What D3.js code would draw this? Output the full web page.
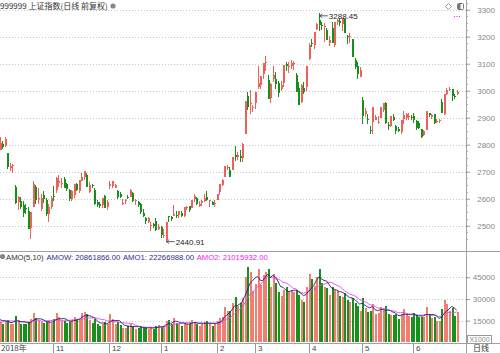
<!DOCTYPE html>
<html>
<head>
<meta charset="utf-8">
<script src="https://cdn.jsdelivr.net/npm/d3@7"></script>
<style>
  body { margin: 0; background: #fff; }
  svg { display: block; font-family: "Liberation Sans", Arial, "Noto Sans CJK SC", sans-serif; }
</style>
</head>
<body>
<div id="main-canvas"></div>
<script>
// Shanghai composite daily candles + turnover (AMO), Sep 2018 - Jun 2019

// ------------ DATA ------------ //

const dates = [
  // Sep 2018 (first ones are only there to feed the moving averages)
  "2018-09-10","2018-09-11","2018-09-12","2018-09-13","2018-09-14","2018-09-17","2018-09-18","2018-09-19","2018-09-20","2018-09-21","2018-09-25","2018-09-26","2018-09-27","2018-09-28",
  // Oct
  "2018-10-08","2018-10-09","2018-10-10","2018-10-11","2018-10-12","2018-10-15","2018-10-16","2018-10-17","2018-10-18","2018-10-19","2018-10-22","2018-10-23","2018-10-24","2018-10-25","2018-10-26","2018-10-29","2018-10-30","2018-10-31",
  // Nov
  "2018-11-01","2018-11-02","2018-11-05","2018-11-06","2018-11-07","2018-11-08","2018-11-09","2018-11-12","2018-11-13","2018-11-14","2018-11-15","2018-11-16","2018-11-19","2018-11-20","2018-11-21","2018-11-22","2018-11-23","2018-11-26","2018-11-27","2018-11-28","2018-11-29","2018-11-30",
  // Dec
  "2018-12-03","2018-12-04","2018-12-05","2018-12-06","2018-12-07","2018-12-10","2018-12-11","2018-12-12","2018-12-13","2018-12-14","2018-12-17","2018-12-18","2018-12-19","2018-12-20","2018-12-21","2018-12-24","2018-12-25","2018-12-26","2018-12-27","2018-12-28",
  // Jan 2019
  "2019-01-02","2019-01-03","2019-01-04","2019-01-07","2019-01-08","2019-01-09","2019-01-10","2019-01-11","2019-01-14","2019-01-15","2019-01-16","2019-01-17","2019-01-18","2019-01-21","2019-01-22","2019-01-23","2019-01-24","2019-01-25","2019-01-28","2019-01-29","2019-01-30","2019-01-31",
  // Feb
  "2019-02-01","2019-02-11","2019-02-12","2019-02-13","2019-02-14","2019-02-15","2019-02-18","2019-02-19","2019-02-20","2019-02-21","2019-02-22","2019-02-25","2019-02-26","2019-02-27","2019-02-28",
  // Mar
  "2019-03-01","2019-03-04","2019-03-05","2019-03-06","2019-03-07","2019-03-08","2019-03-11","2019-03-12","2019-03-13","2019-03-14","2019-03-15","2019-03-18","2019-03-19","2019-03-20","2019-03-21","2019-03-22","2019-03-25","2019-03-26","2019-03-27","2019-03-28","2019-03-29",
  // Apr
  "2019-04-01","2019-04-02","2019-04-03","2019-04-04","2019-04-08","2019-04-09","2019-04-10","2019-04-11","2019-04-12","2019-04-15","2019-04-16","2019-04-17","2019-04-18","2019-04-19","2019-04-22","2019-04-23","2019-04-24","2019-04-25","2019-04-26","2019-04-29","2019-04-30",
  // May
  "2019-05-06","2019-05-07","2019-05-08","2019-05-09","2019-05-10","2019-05-13","2019-05-14","2019-05-15","2019-05-16","2019-05-17","2019-05-20","2019-05-21","2019-05-22","2019-05-23","2019-05-24","2019-05-27","2019-05-28","2019-05-29","2019-05-30","2019-05-31",
  // Jun
  "2019-06-03","2019-06-04","2019-06-05","2019-06-06","2019-06-10","2019-06-11","2019-06-12","2019-06-13","2019-06-14","2019-06-17","2019-06-18","2019-06-19","2019-06-20","2019-06-21","2019-06-24","2019-06-25","2019-06-26","2019-06-27"
];

const opens = [
  2690,2668,2660,2680,2688,2680,2644,2696,2730,2731,2785,2782,2803,2795,
  2768,2713,2723,2643,2588,2592,2577,2567,2556,2492,2571,2644,2598,2561,2615,2595,2542,2569,
  2609,2634,2658,2656,2672,2656,2631,2598,2612,2653,2630,2666,2680,2689,2624,2650,2634,2587,2582,2578,2610,2570,
  2647,2647,2641,2627,2616,2583,2590,2608,2607,2620,2593,2588,2581,2546,2530,2514,2500,2505,2518,2487,
  2497,2461,2446,2535,2534,2535,2541,2540,2548,2536,2568,2572,2567,2598,2603,2573,2585,2593,2608,2590,2588,2580,
  2597,2623,2650,2680,2712,2708,2706,2762,2755,2760,2749,2838,2981,2949,2940,
  2954,3015,3020,3061,3104,3038,2974,3043,3043,3030,3008,3028,3100,3091,3092,3102,3057,3009,2958,3009,3012,
  3118,3177,3171,3227,3262,3245,3238,3225,3175,3232,3170,3255,3260,3248,3265,3203,3201,3192,3112,3093,3052,
  2966,2914,2895,2855,2883,2891,2880,2899,2927,2953,2874,2868,2904,2870,2857,2846,2894,2899,2901,2903,
  2905,2887,2882,2857,2836,2856,2916,2903,2914,2886,2886,2960,2913,2987,3006,3006,2981,2986
];

const highs = [
  2694,2685,2675,2690,2703,2680,2700,2743,2740,2798,2790,2827,2813,2827,
  2769,2732,2730,2651,2610,2605,2591,2581,2569,2552,2667,2649,2640,2617,2628,2604,2580,2610,
  2646,2679,2688,2675,2680,2658,2637,2632,2656,2658,2669,2695,2703,2694,2661,2656,2640,2597,2589,2601,2615,2595,
  2667,2667,2655,2631,2623,2599,2599,2615,2635,2624,2599,2590,2584,2561,2532,2531,2512,2510,2527,2505,
  2500,2488,2515,2536,2535,2575,2556,2554,2553,2571,2574,2573,2597,2618,2606,2590,2597,2618,2630,2596,2590,2594,
  2619,2653,2674,2722,2726,2716,2754,2795,2773,2779,2805,2961,2997,3002,2948,
  2997,3090,3055,3103,3129,3060,3028,3091,3068,3037,3035,3096,3105,3106,3112,3111,3066,3032,3023,3031,3093,
  3177,3191,3218,3252,3288.45,3253,3249,3231,3204,3255,3253,3265,3269,3270,3265,3207,3213,3192,3120,3107,3088,
  2978,2935,2914,2870,2941,2910,2907,2941,2955,2957,2884,2906,2913,2872,2867,2892,2926,2919,2917,2911,
  2918,2890,2886,2858,2853,2926,2917,2913,2914,2895,2897,2968,2988,3010,3014,3006,2987,3004
];

const lows = [
  2666,2653,2652,2661,2680,2644,2640,2690,2724,2729,2771,2782,2785,2792,
  2710,2702,2696,2582,2560,2563,2533,2543,2486,2449,2570,2581,2581,2554,2584,2536,2513,2561,
  2592,2622,2645,2640,2640,2630,2592,2593,2603,2627,2622,2664,2670,2643,2620,2638,2577,2570,2565,2566,2566,2560,
  2635,2640,2638,2600,2601,2576,2580,2598,2605,2589,2578,2569,2544,2531,2505,2509,2479,2492,2481,2483,
  2456,2455,2440.91,2515,2519,2535,2529,2530,2533,2532,2558,2551,2566,2587,2575,2568,2574,2588,2593,2570,2575,2570,
  2597,2615,2646,2680,2707,2680,2706,2740,2745,2735,2737,2838,2930,2913,2922,
  2933,3006,3005,3042,3074,2969,2956,3031,3005,2976,2999,3013,3072,3064,3082,3075,2995,2946,2955,2986,3000,
  3114,3161,3155,3226,3222,3226,3181,3187,3167,3176,3162,3245,3241,3222,3215,3172,3176,3124,3080,3044,3050,
  2876,2901,2875,2838,2841,2891,2875,2899,2920,2875,2856,2865,2888,2838,2846,2838,2878,2891,2892,2892,
  2881,2855,2859,2823,2832,2854,2904,2896,2876,2879,2879,2916,2911,2983,2999,2962,2968,2984
];

const closes = [
  2669,2664,2657,2686,2682,2652,2700,2731,2730,2797,2781,2806,2792,2821,
  2716,2721,2725,2583,2606,2568,2546,2561,2486,2550,2655,2594,2603,2604,2598,2542,2568,2603,
  2606,2676,2665,2659,2641,2635,2599,2630,2654,2632,2668,2679,2703,2645,2651,2646,2579,2575,2574,2601,2567,2588,
  2654,2666,2649,2605,2605,2584,2594,2602,2634,2593,2597,2576,2550,2536,2516,2527,2504,2498,2483,2494,
  2465,2464,2514,2533,2526,2544,2535,2553,2535,2570,2570,2559,2596,2610,2579,2581,2591,2601,2596,2594,2575,2584,
  2618,2653,2671,2721,2719,2682,2754,2755,2761,2751,2804,2961,2941,2954,2941,
  2994,3027,3054,3102,3106,2969,3026,3060,3026,2990,3021,3096,3091,3091,3101,3104,2997,2946,3022,2994,3090,
  3170,3176,3216,3246,3244,3239,3241,3189,3188,3177,3253,3263,3250,3270,3215,3198,3201,3124,3086,3062,3078,
  2906,2926,2893,2850,2939,2903,2883,2938,2955,2882,2870,2905,2891,2852,2852,2892,2909,2914,2905,2898,
  2890,2862,2861,2827,2852,2925,2909,2910,2882,2888,2890,2917,2987,3001,3008,2982,2977,2996
];

// turnover, shown on the axis in units of x1000
const amounts = [
  12500,11500,11000,12500,12000,11000,13500,17500,13500,19000,15500,14000,13000,14500,
  15500,12500,13000,18000,15500,12500,12500,13000,14000,16000,20000,17000,14500,14000,13500,14000,14500,13500,
  16000,20000,17500,14500,15000,13500,14000,15500,17500,16000,16500,20000,21000,19500,15500,13500,16000,12500,11500,13000,14000,12500,
  19500,16500,13000,14000,12000,10000,10000,11000,12500,11500,9500,10000,10500,10000,10500,9000,10500,9500,11500,12000,
  10500,11000,15000,15500,12500,17000,13500,12500,11500,13500,13000,12500,15500,14000,13000,11500,13000,14000,15000,12500,11500,12500,
  15000,17000,17500,24500,21500,22000,27000,31500,25000,27000,30500,45500,52000,49000,35500,
  40500,50500,40000,46500,48500,51000,38500,47000,41000,34500,32000,36000,38000,35500,36000,34500,36500,33000,29500,28000,38500,
  47000,44000,39000,45500,50500,41000,38000,37500,33000,38500,36500,35500,32000,31500,34000,29500,28000,30500,27000,25500,21500,
  31000,24000,21000,22000,26500,19500,20500,24500,22500,25000,19500,19000,19000,19500,16000,19500,23000,19500,18000,17500,
  20000,19000,17500,17500,17500,24500,19500,17000,17500,14500,14500,23000,29324,26500,21500,24000,18473,20862
];

const priceTicks = [2500, 2600, 2700, 2800, 2900, 3000, 3100, 3200, 3300];
const amountTicks = [15000, 30000, 45000];
const yearLabel = "2018年";

const title = "999999 上证指数(日线 前复权)";
const amoTexts = [
  { text: "AMO(5,10)", color: "#333" },
  { text: "AMOW: 20861866.00", color: "#2e2e8c" },
  { text: "AMO1: 22266988.00", color: "#2e2e8c" },
  { text: "AMO2: 21015932.00", color: "#f020f0" }
];

// ------------ LAYOUT ------------ //

let width = 500;
let height = 353;
const plotRight = 466;          // right axis line
const step = 2.553;             // px per trading day
const anchorX = 53.3;           // where 2018-11-01 sits
const upColor = "#f0605a";
const downColor = "#16901a";
const volUp = "#f47d72";
const volDown = "#14921a";

let svg = d3.select("#main-canvas").append("svg")
    .attr("width", width)
    .attr("height", height)

// x by trading day index
let x0 = anchorX - dates.indexOf("2018-11-01") * step;
let x = d3.scaleLinear()
    .domain([0, dates.length - 1])
    .range([x0, x0 + (dates.length - 1) * step])

let yPrice = d3.scaleLinear().domain([2500, 3300]).range([225.7, 9.7])
let yAmo = d3.scaleLinear().domain([0, 45000]).range([342.4, 277.3])

let bars = dates.map((d, i) => ({
    date: d, i: i,
    open: opens[i], high: highs[i], low: lows[i], close: closes[i],
    amo: amounts[i],
    up: closes[i] >= opens[i]
}))

// moving averages of the turnover
function movingAvg(n) {
    return bars.map((b, i) => {
        if (i < n - 1) return null;
        return { i: i, v: d3.mean(amounts.slice(i - n + 1, i + 1)) };
    }).filter(d => d);
}

// clip paths for both panels
let defs = svg.append("defs")
defs.append("clipPath").attr("id", "clip-price")
    .append("rect").attr("x", 0).attr("y", 0).attr("width", plotRight).attr("height", 251)
defs.append("clipPath").attr("id", "clip-amo")
    .append("rect").attr("x", 0).attr("y", 252).attr("width", plotRight).attr("height", 91)

// ------------ GRID & FRAME ------------ //

let grid = svg.append("g").attr("class", "grid")
grid.selectAll("line.pg")
    .data(priceTicks)
    .enter().append("line")
    .attr("class", "pg")
    .attr("x1", 0).attr("x2", plotRight)
    .attr("y1", d => Math.round(yPrice(d)) + 0.5)
    .attr("y2", d => Math.round(yPrice(d)) + 0.5)
    .attr("stroke", "#c8c8c8")
    .attr("stroke-dasharray", "1,2")

grid.selectAll("line.ag")
    .data(amountTicks)
    .enter().append("line")
    .attr("class", "ag")
    .attr("x1", 0).attr("x2", plotRight)
    .attr("y1", d => Math.round(yAmo(d)) + 0.5)
    .attr("y2", d => Math.round(yAmo(d)) + 0.5)
    .attr("stroke", "#c8c8c8")
    .attr("stroke-dasharray", "1,2")

let frame = svg.append("g").attr("stroke", "#a0a0a0").attr("shape-rendering", "crispEdges")
frame.append("line").attr("x1", plotRight + 0.5).attr("x2", plotRight + 0.5).attr("y1", 0).attr("y2", height)
frame.append("line").attr("x1", 0).attr("x2", width).attr("y1", 251.5).attr("y2", 251.5)
frame.append("line").attr("x1", 0).attr("x2", width).attr("y1", 343.5).attr("y2", 343.5)

// ------------ CANDLES ------------ //

let candles = svg.append("g")
    .attr("clip-path", "url(#clip-price)")
    .attr("shape-rendering", "crispEdges")
    .selectAll("g")
    .data(bars)
    .enter().append("g")

candles.append("line")
    .attr("x1", d => Math.round(x(d.i)) + 0.5)
    .attr("x2", d => Math.round(x(d.i)) + 0.5)
    .attr("y1", d => yPrice(d.high))
    .attr("y2", d => yPrice(d.low))
    .attr("stroke", d => d.up ? upColor : downColor)

candles.append("rect")
    .attr("x", d => Math.round(x(d.i)) - 0.5)
    .attr("width", 2)
    .attr("y", d => yPrice(Math.max(d.open, d.close)))
    .attr("height", d => Math.max(1, Math.abs(yPrice(d.open) - yPrice(d.close))))
    .attr("fill", d => d.up ? upColor : downColor)

// ------------ TURNOVER ------------ //

svg.append("g")
    .attr("clip-path", "url(#clip-amo)")
    .attr("shape-rendering", "crispEdges")
    .selectAll("rect")
    .data(bars)
    .enter().append("rect")
    .attr("x", d => Math.round(x(d.i)) - 0.5)
    .attr("width", 2)
    .attr("y", d => yAmo(d.amo))
    .attr("height", d => yAmo(0) - yAmo(d.amo))
    .attr("fill", d => d.up ? volUp : volDown)

let maLine = d3.line().x(d => x(d.i)).y(d => yAmo(d.v))
let maGroup = svg.append("g").attr("clip-path", "url(#clip-amo)").attr("fill", "none")
maGroup.append("path").datum(movingAvg(10))
    .attr("d", maLine).attr("stroke", "#e848e8").attr("stroke-width", 0.9)
maGroup.append("path").datum(movingAvg(5))
    .attr("d", maLine).attr("stroke", "#22226e").attr("stroke-width", 0.9)

// ------------ AXES ------------ //

let priceAxis = d3.axisRight(yPrice).tickValues(priceTicks).tickFormat(d3.format("d")).tickSize(4).tickPadding(8)
let gPrice = svg.append("g")
    .attr("transform", `translate(${plotRight},0)`)
    .call(priceAxis)
gPrice.select(".domain").remove()
gPrice.selectAll("line").attr("stroke", "#999")
gPrice.selectAll("text").attr("fill", "#888").attr("font-size", "8px")
    .attr("text-anchor", "end").attr("x", 29)

// minor ticks between the round numbers
svg.append("g").selectAll("line")
    .data(d3.range(2450, 3350, 25).filter(v => v % 100 != 0))
    .enter().append("line")
    .attr("x1", plotRight).attr("x2", plotRight + 2)
    .attr("y1", d => Math.round(yPrice(d)) + 0.5)
    .attr("y2", d => Math.round(yPrice(d)) + 0.5)
    .attr("stroke", "#aaa")

let amoAxis = d3.axisRight(yAmo).tickValues(amountTicks).tickFormat(d3.format("d")).tickSize(4).tickPadding(8)
let gAmo = svg.append("g")
    .attr("transform", `translate(${plotRight},0)`)
    .call(amoAxis)
gAmo.select(".domain").remove()
gAmo.selectAll("line").attr("stroke", "#999")
gAmo.selectAll("text").attr("fill", "#888").attr("font-size", "8px")
    .attr("text-anchor", "end").attr("x", 29)

// x1000 box
svg.append("rect").attr("x", 467.5).attr("y", 335.5).attr("width", 24).attr("height", 8)
    .attr("fill", "none").attr("stroke", "#999")
svg.append("text").attr("x", 479.5).attr("y", 342.3).attr("text-anchor", "middle")
    .attr("font-size", "7px").attr("fill", "#888").text("X1000")

// month ticks along the bottom
let monthStarts = bars.filter((b, i) => i > 0 && b.date.slice(0, 7) != bars[i - 1].date.slice(0, 7) && x(i) > 20)
let gMonths = svg.append("g")
gMonths.selectAll("line")
    .data(monthStarts)
    .enter().append("line")
    .attr("x1", d => Math.round(x(d.i)) + 0.5)
    .attr("x2", d => Math.round(x(d.i)) + 0.5)
    .attr("y1", 343).attr("y2", height)
    .attr("stroke", "#999")
gMonths.selectAll("text")
    .data(monthStarts)
    .enter().append("text")
    .attr("x", d => Math.round(x(d.i)) + 3)
    .attr("y", 351)
    .attr("font-size", "8px")
    .attr("fill", "#444")
    .text(d => +d.date.slice(5, 7))
svg.append("text").attr("x", 1).attr("y", 351).attr("font-size", "8px").attr("fill", "#444")
    .attr("font-family", "Noto Sans CJK SC").text(yearLabel)
svg.append("text").attr("x", 473).attr("y", 351).attr("font-size", "8px").attr("fill", "#333")
    .attr("font-family", "Noto Sans CJK SC").text("日线")

// ------------ LABELS ------------ //

svg.append("text").attr("x", 0).attr("y", 9)
    .attr("font-size", "8px").attr("fill", "#333")
    .attr("font-family", "Noto Sans CJK SC")
    .text(title)
svg.append("circle").attr("cx", 113).attr("cy", 6).attr("r", 2.6).attr("fill", "#888")

// top right icons
svg.append("path").attr("d", "M448.5,3.5 l3,3 l-3,3 l-3,-3 z").attr("fill", "none").attr("stroke", "#999")
svg.append("rect").attr("x", 457.5).attr("y", 3.5).attr("width", 6).attr("height", 6).attr("rx", 1)
    .attr("fill", "none").attr("stroke", "#777")
svg.append("rect").attr("x", 458).attr("y", 4).attr("width", 2.5).attr("height", 5).attr("fill", "#777")
svg.append("line").attr("x1", 454).attr("x2", 461).attr("y1", 16.5).attr("y2", 16.5)
    .attr("stroke", "#f020f0").attr("stroke-dasharray", "1,1.5")

// high / low markers
let hiIdx = d3.maxIndex(bars, d => d.high)
let loIdx = d3.minIndex(bars.filter(d => x(d.i) >= 0), d => d.low) + bars.findIndex(d => x(d.i) >= 0)
let markers = [
    { i: hiIdx, v: bars[hiIdx].high, dy: 3 },
    { i: loIdx, v: bars[loIdx].low, dy: 0 }
]
markers.forEach(m => {
    let mx = x(m.i) + 1
    let my = yPrice(m.v) + m.dy
    svg.append("path")
        .attr("d", `M${mx},${my} l8,0 M${mx},${my} l2.5,-2 M${mx},${my} l2.5,2`)
        .attr("stroke", "#333").attr("fill", "none").attr("stroke-width", 0.8)
    svg.append("text").attr("x", mx + 9).attr("y", my + 3)
        .attr("font-size", "8px").attr("fill", "#222")
        .text(d3.format(".2f")(m.v))
})

// turnover header
svg.append("circle").attr("cx", 2.5).attr("cy", 256.5).attr("r", 2.6).attr("fill", "#888")
let hx = 6
amoTexts.forEach(t => {
    let el = svg.append("text").attr("x", hx).attr("y", 259.5)
        .attr("font-size", "7.7px").attr("fill", t.color).text(t.text)
    hx += el.node().getComputedTextLength() + 2.8
})
</script>
</body>
</html>
